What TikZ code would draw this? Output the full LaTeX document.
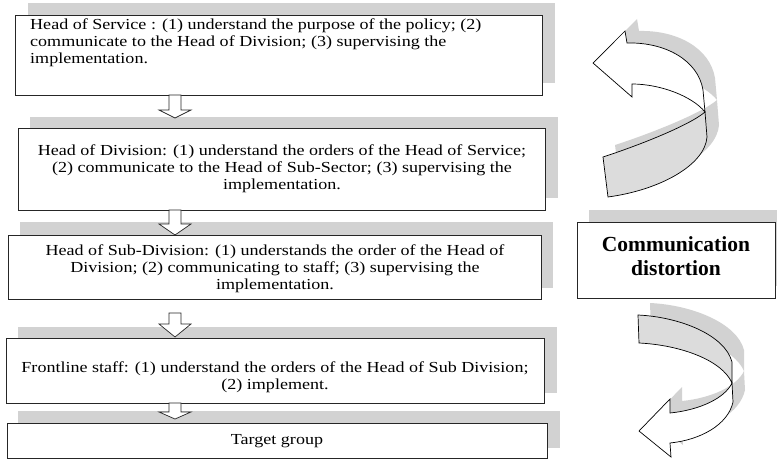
\documentclass[tikz,border=0pt]{standalone}
\usepackage{fontspec}
\setmainfont{Liberation Serif}[FakeStretch=1.18]
\newfontfamily\cdfont{Liberation Serif}
\definecolor{shd}{RGB}{210,210,210}
\definecolor{backc}{RGB}{220,220,220}
\newcommand\dnarrow[4]{% cx, ytop, yhead, ytip
  \path[blockarrow] (#1-6,#2) -- (#1-6,#3) -- (#1-16,#3) -- (#1,#4) -- (#1+16,#3) -- (#1+6,#3) -- (#1+6,#2) -- cycle;}
\newcommand\uaFront[1]{\path[#1] (627,43) .. controls (665,42) and (698,60) .. (703,90) -- (705,112) .. controls (692,96) and (660,84) .. (632,84) -- (632,97) -- (593,63) -- (625,31) -- cycle;}
\newcommand\uaBack[1]{\path[#1] (705,112) -- (707,137) .. controls (705,165) and (660,190) .. (608,197) -- (603,157) .. controls (640,145) and (690,125) .. (705,112) -- cycle;}
\newcommand\laFront[1]{\path[#1] (732,383) -- (733,402) .. controls (728,425) and (700,440) .. (670,443) -- (671,457) -- (639,431) -- (670,399) -- (670,413) .. controls (700,410) and (725,398) .. (732,383) -- cycle;}
\newcommand\laBack[1]{\path[#1] (638,315) .. controls (680,317) and (725,335) .. (732,362) -- (732,383) .. controls (722,360) and (680,345) .. (639,343) -- cycle;}
\begin{document}
\begin{tikzpicture}[x=1pt,y=-1pt,
  shadowbox/.style={fill=shd},
  box/.style={draw=black!85, line width=0.8pt, fill=white, inner sep=0pt},
  txt/.style={inner sep=0pt, font=\fontsize{15.3}{17}\selectfont},
  blockarrow/.style={draw=black!85, line width=0.7pt, fill=white, line join=miter},
  facew/.style={draw=black, line width=0.7pt, fill=white, line join=miter},
  faceg/.style={draw=black, line width=0.7pt, fill=backc, line join=miter}]
\useasboundingbox (0,0) rectangle (777,460);
% box shadows
\fill[shadowbox] (28,3) rectangle (555,83);
\fill[shadowbox] (30,117) rectangle (558,198);
\fill[shadowbox] (20,222) rectangle (553,288);
\fill[shadowbox] (18,327) rectangle (557,393);
\fill[shadowbox] (18,411) rectangle (560,448);
\fill[shadowbox] (589,210) rectangle (777,286);
% boxes
\node[box, minimum width=527pt, minimum height=80pt] (b1) at (278.5,55) {};
\node[box, minimum width=527pt, minimum height=82pt] (b2) at (281.5,169) {};
\node[box, minimum width=533pt, minimum height=64pt] (b3) at (274.5,267) {};
\node[box, minimum width=538pt, minimum height=65pt] (b4) at (275,370.5) {};
\node[box, minimum width=540pt, minimum height=35pt] (b5) at (277,440.5) {};
\node[box, minimum width=198pt, minimum height=76pt] (cd) at (676,260) {};
% texts
\node[txt, anchor=west, align=left] (t1) at (30,43) {Head of Service : (1) understand the purpose of the policy; (2)\\communicate to the Head of Division; (3) supervising the\\implementation.};
\node[txt, align=center] (t2) at (282,169) {Head of Division: (1) understand the orders of the Head of Service;\\(2) communicate to the Head of Sub-Sector; (3) supervising the\\implementation.};
\node[txt, align=center] (t3) at (275,269) {Head of Sub-Division: (1) understands the order of the Head of\\Division; (2) communicating to staff; (3) supervising the\\implementation.};
\node[txt, align=center] (t4) at (275,377.5) {Frontline staff: (1) understand the orders of the Head of Sub Division;\\(2) implement.};
\node[txt] (t5) at (277,441) {Target group};
\node[inner sep=0pt, align=center, font=\cdfont\bfseries\fontsize{21.5}{24}\selectfont] (tc) at (676,256) {Communication\\distortion};
% down block arrows
\dnarrow{175}{95}{110}{118}
\dnarrow{175}{210}{224}{235}
\dnarrow{175}{313}{324}{337}
\dnarrow{175}{403}{412}{419}
% curved arrows: shadows
\begin{scope}[shift={(12,-12)}]
\uaFront{fill=shd}
\uaBack{fill=shd}
\laFront{fill=shd}
\laBack{fill=shd}
\end{scope}
% curved arrows: faces
\uaBack{faceg}
\uaFront{facew}
\laBack{faceg}
\laFront{facew}
\end{tikzpicture}
\end{document}
